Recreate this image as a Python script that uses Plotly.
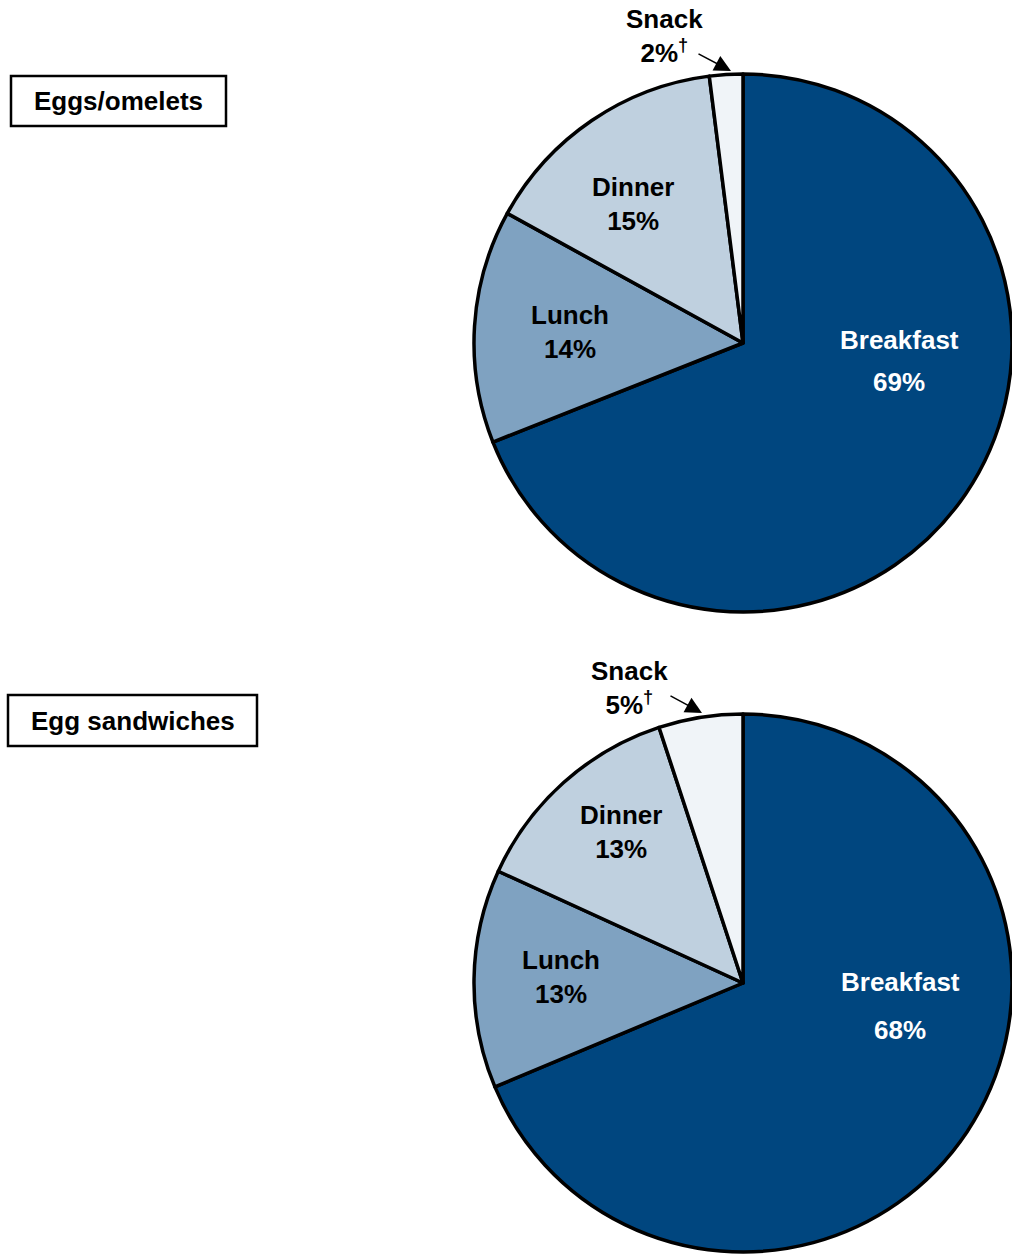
import plotly.graph_objects as go

W, H = 1012, 1255

meals = ["Breakfast", "Lunch", "Dinner", "Snack"]
eggs_omelets = [69, 14, 15, 2]
egg_sandwiches = [68, 13, 13, 5]
panel_titles = ["Eggs/omelets", "Egg sandwiches"]

colors = ["#00467f", "#7fa2c1", "#bfd0df", "#f0f4f8"]
FONT = "Arial, Liberation Sans, Helvetica, sans-serif"
FS = 26


def px(x):
    return x / W


def py(y):
    return 1 - y / H


fig = go.Figure()

# pie domains (pixel boxes)
pie_boxes = [(474, 1012, 74, 612), (474, 1012, 714, 1252)]
for vals, (x0, x1, y0, y1), name in zip([eggs_omelets, egg_sandwiches], pie_boxes, panel_titles):
    fig.add_trace(go.Pie(
        labels=meals, values=vals, name=name,
        sort=False, direction="clockwise", rotation=0,
        marker=dict(colors=colors, line=dict(color="black", width=3.5)),
        textinfo="none", hoverinfo="label+percent",
        domain=dict(x=[px(x0), px(x1)], y=[py(y1), py(y0)]),
        showlegend=False,
    ))

annotations = []
# label positions (pixel centers) per panel: (meal index, x, y, second-line y)
label_pos = [
    [(0, 899, 340, 382), (1, 570, 332, None), (2, 633, 204, None), (3, 664, 36, None)],
    [(0, 900, 982, 1030), (1, 561, 977, None), (2, 621, 832, None), (3, 629, 688, None)],
]
for vals, positions in zip([eggs_omelets, egg_sandwiches], label_pos):
    for idx, x, y, y2 in positions:
        meal = meals[idx]
        v = vals[idx]
        if idx == 0:
            for txt, yy in [(meal, y), (f"{v}%", y2)]:
                annotations.append(dict(
                    x=px(x), y=py(yy), xref="paper", yref="paper",
                    text=f"<b>{txt}</b>", showarrow=False,
                    font=dict(family=FONT, size=FS, color="white"),
                    xanchor="center", yanchor="middle"))
        else:
            suffix = "<sup>†</sup>" if meal == "Snack" else ""
            annotations.append(dict(
                x=px(x), y=py(y), xref="paper", yref="paper",
                text=f"<b>{meal}<br>{v}%{suffix}</b>", showarrow=False,
                font=dict(family=FONT, size=FS, color="black"),
                xanchor="center", yanchor="middle", align="center"))

# arrows for snack labels (tip, tail in px)
arrows = [((731, 71), (697, 53)), ((702, 713), (669, 695))]
for (tx, ty), (sx, sy) in arrows:
    annotations.append(dict(
        x=px(tx), y=py(ty), xref="paper", yref="paper",
        ax=sx - tx, ay=sy - ty, axref="pixel", ayref="pixel",
        text="", showarrow=True, arrowhead=2, arrowsize=2.2,
        arrowwidth=1.5, arrowcolor="black", standoff=0))

# title boxes
boxes = [(11, 226, 76, 126), (8, 257, 695, 746)]
shapes = []
for title, (x0, x1, y0, y1) in zip(panel_titles, boxes):
    shapes.append(dict(type="rect", xref="paper", yref="paper",
                       x0=px(x0), x1=px(x1), y0=py(y1), y1=py(y0),
                       line=dict(color="black", width=2.5), fillcolor="white"))
    annotations.append(dict(
        x=px((x0 + x1) / 2), y=py((y0 + y1) / 2), xref="paper", yref="paper",
        text=f"<b>{title}</b>", showarrow=False,
        font=dict(family=FONT, size=FS, color="black"),
        xanchor="center", yanchor="middle"))

fig.update_layout(
    width=W, height=H,
    margin=dict(l=0, r=0, t=0, b=0),
    paper_bgcolor="white", plot_bgcolor="white",
    annotations=annotations, shapes=shapes,
    showlegend=False,
)

fig.write_html("out.html")
